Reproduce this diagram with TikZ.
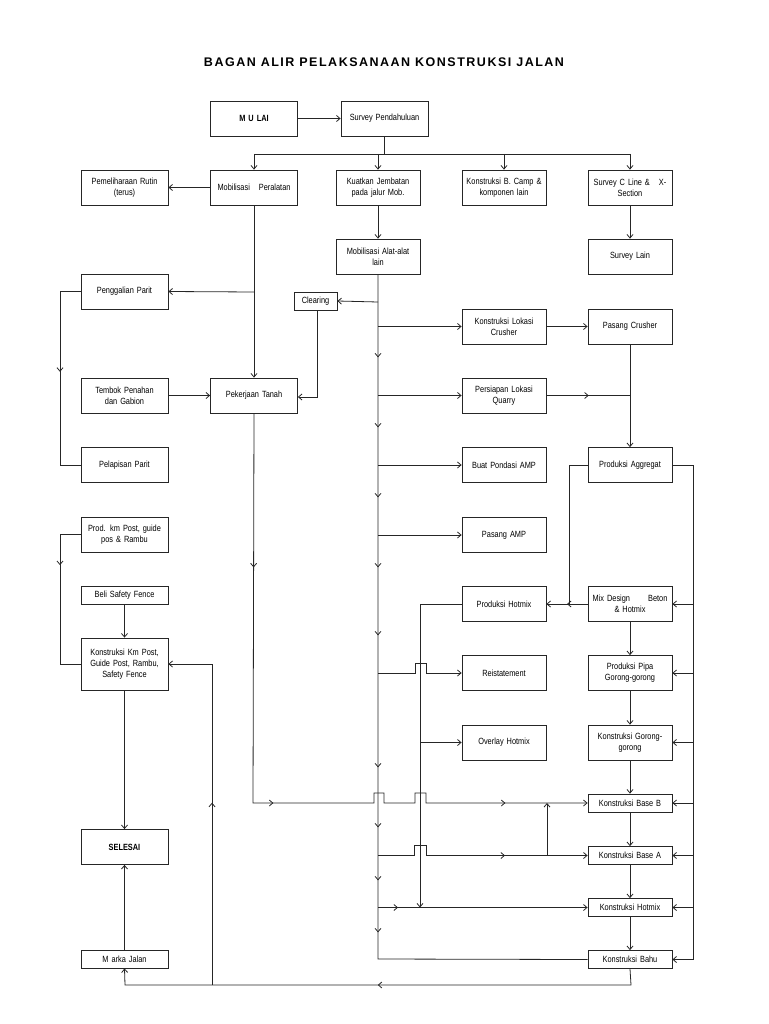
\documentclass[tikz,border=0pt]{standalone}
\usepackage{fontspec}
\setmainfont{Liberation Sans}[FakeStretch=0.82]
\newfontfamily\titlefont{Liberation Sans}[LetterSpace=12]
\usetikzlibrary{arrows.meta,decorations.markings}
\begin{document}
\begin{tikzpicture}[x=1pt,y=-1pt,
  >={Straight Barb[length=3.5pt,width=6pt]},
  line/.style={draw=black!85,line width=0.8pt},
  box/.style={draw=black!85,line width=0.8pt,rectangle,minimum width=84pt,minimum height=35pt,
    text width=82pt,align=center,inner sep=1pt,font=\fontsize{9}{11}\selectfont,
    execute at begin node={\hyphenpenalty=10000\relax}},
  wbox/.style={box,minimum width=87pt,text width=85pt},
  sbox/.style={box,minimum height=18pt},
  swbox/.style={wbox,minimum height=18pt},
  marks/.style={postaction={decorate},decoration={markings,#1}},
]
\useasboundingbox (0,0) rectangle (768,1024);
\node[font=\titlefont\bfseries\fontsize{12.5}{14}\selectfont] (title) at (384,62) {BAGAN ALIR PELAKSANAAN KONSTRUKSI JALAN};
% nodes
\node[wbox,font=\bfseries\fontsize{9}{11}\selectfont] (mulai) at (254,118.5) {M U LAI};
\node[wbox] (survey) at (384.5,118.5) {Survey Pendahuluan};
\node[wbox] (mobper) at (254,187.5) {Mobilisasi\quad Peralatan};
\node[box] (kuat) at (378,187.5) {Kuatkan Jembatan\\pada jalur Mob.};
\node[box] (camp) at (504,187.5) {Konstruksi B. Camp \&\\komponen lain};
\node[box] (scl) at (630,187.5) {Survey C Line \&\quad X-\\Section};
\node[box] (slain) at (630,256.5) {Survey Lain};
\node[box] (mobalat) at (378,256.5) {Mobilisasi Alat-alat\\lain};
\node[draw=black!85,line width=0.8pt,minimum width=43pt,minimum height=18pt,inner sep=1pt,font=\fontsize{9}{11}\selectfont] (clear) at (315.5,301) {Clearing};
\node[box] (klc) at (504,326.5) {Konstruksi Lokasi\\Crusher};
\node[box] (pcr) at (630,326.5) {Pasang Crusher};
\node[box] (plq) at (504,395.5) {Persiapan Lokasi\\Quarry};
\node[box] (agg) at (630,465) {Produksi Aggregat};
\node[box] (bpa) at (504,465) {Buat Pondasi AMP};
\node[box] (pamp) at (504,535) {Pasang AMP};
\node[wbox] (pem) at (124.5,187.5) {Pemeliharaan Rutin\\(terus)};
\node[wbox] (pgp) at (124.5,291.5) {Penggalian Parit};
\node[wbox] (tbk) at (124.5,395.5) {Tembok Penahan\\dan Gabion};
\node[wbox] (pkt) at (254,395.5) {Pekerjaan Tanah};
\node[wbox] (plp) at (124.5,465) {Pelapisan Parit};
\node[wbox] (pkm) at (124.5,534.5) {Prod. km Post, guide\\pos \& Rambu};
\node[swbox] (beli) at (124.5,595) {Beli Safety Fence};
\node[wbox,minimum height=52pt] (kkm) at (124.5,664) {Konstruksi Km Post,\\Guide Post, Rambu,\\Safety Fence};
\node[wbox,font=\bfseries\fontsize{9}{11}\selectfont] (sel) at (124.5,847) {SELESAI};
\node[swbox] (marka) at (124.5,959) {M arka Jalan};
\node[box] (phm) at (504,604) {Produksi Hotmix};
\node[box] (mix) at (630,604) {Mix Design\qquad Beton\\\& Hotmix};
\node[box] (reis) at (504,673) {Reistatement};
\node[box] (pipa) at (630,673) {Produksi Pipa\\Gorong-gorong};
\node[box] (ovl) at (504,742.5) {Overlay Hotmix};
\node[box] (kgg) at (630,742.5) {Konstruksi Gorong-\\gorong};
\node[sbox] (bb) at (630,803) {Konstruksi Base B};
\node[sbox] (ba) at (630,855.5) {Konstruksi Base A};
\node[sbox] (khm) at (630,907.5) {Konstruksi Hotmix};
\node[sbox] (bahu) at (630,959.5) {Konstruksi Bahu};
% coordinates
\coordinate (trE) at (378,959);
% connectors top
\draw[line,->] (mulai) -- (survey);
\draw[line] (survey.south) -- (384.5,154);
\draw[line] (254,154) -- (630,154);
\draw[line,->] (254,154) -- (mobper.north);
\draw[line,->] (378,154) -- (kuat.north);
\draw[line,->] (504,154) -- (camp.north);
\draw[line,->] (630,154) -- (scl.north);
\draw[line,->] (scl) -- (slain);
\draw[line,->] (kuat) -- (mobalat);
\draw[line,->] (mobper) -- (pem);
\draw[line,->] (mobper) -- (pkt);
\draw[line,->] (254,292) -- (pgp.east);
\draw[line,marks={mark=at position 0.47 with {\arrow{>}}}] (pgp.west) -- (60,291.5) -- (60,465) -- (plp.west);
\draw[line,->] (tbk) -- (pkt);
\draw[line,->] (clear.south -| 317,310) -- (317,397) -- (pkt.east |- 0,397);
% trunk
\draw[line,marks={mark=at position 83pt with {\arrow{>}},mark=at position 153pt with {\arrow{>}},
  mark=at position 223pt with {\arrow{>}},mark=at position 293pt with {\arrow{>}},
  mark=at position 361pt with {\arrow{>}},mark=at position 493pt with {\arrow{>}},
  mark=at position 553pt with {\arrow{>}},mark=at position 606pt with {\arrow{>}},
  mark=at position 658pt with {\arrow{>}}}]
  (mobalat.south) -- (trE) -- (bahu.west);
\draw[line,->] (378,302) -- (clear.east);
\draw[line,->] (378,326.5) -- (klc.west);
\draw[line,->] (klc) -- (pcr);
\draw[line,->] (378,395.5) -- (plq.west);
\draw[line,->] (378,465) -- (bpa.west);
\draw[line,->] (378,535) -- (pamp.west);
\draw[line,marks={mark=at position 0.5 with {\arrow{>}}}] (plq.east) -- (631,395.5);
\draw[line,->] (pcr.south) -- (agg.north);
% aggregat
\draw[line] (agg.west) -- (569,465) -- (569,604);
\draw[line,->,marks={mark=at position 0.5 with {\arrow{>}}}] (mix.west) -- (phm.east);
\draw[line] (agg.east) -- (693,465) -- (693,959.5);
\foreach \n/\yy in {mix/604,pipa/673,kgg/742.5,bb/803,ba/855.5,khm/907.5,bahu/959.5}
  \draw[line,->] (693,\yy) -- (\n.east);
\draw[line,->] (mix) -- (pipa);
\draw[line,->] (pipa) -- (kgg);
\draw[line,->] (kgg) -- (bb);
\draw[line,->] (bb) -- (ba);
\draw[line,->] (ba) -- (khm);
\draw[line,->] (khm) -- (bahu);
% hotmix
\draw[line,->] (phm.west) -- (420,604) -- (420,907.5);
\draw[line,->] (420,742.5) -- (ovl.west);
\draw[line,->] (378,673) -- (415,673) -- (415,663) -- (426,663) -- (426,673) -- (reis.west);
\draw[line,->,marks={mark=at position 154pt with {\arrow{>}},mark=at position 410pt with {\arrow{>}},mark=at position 682pt with {\arrow{>}}}]
  (pkt.south) -- (253,803) -- (374,803) -- (374,793) -- (384,793) -- (384,803) -- (415,803) -- (415,793) -- (426,793) -- (426,803) -- (bb.west);
\draw[line,->,marks={mark=at position 147pt with {\arrow{>}}}] (378,855.5) -- (414,855.5) -- (414,845.5) -- (426,845.5) -- (426,855.5) -- (ba.west);
\draw[line,->] (547,855.5) -- (547,803);
\draw[line,->,marks={mark=at position 20pt with {\arrow{>}}}] (378,907.5) -- (khm.west);
% bottom
\draw[line,->,marks={mark=at position 0.5 with {\arrow{>}}}] (bahu.south) -- (631,985) -- (125,985) -- (marka.south);
\draw[line,->,marks={mark=at position 0.5 with {\arrow{>}}}] (212,985) -- (212,664) -- (kkm.east);
\draw[line,->] (marka) -- (sel);
\draw[line,->] (kkm) -- (sel);
\draw[line,->] (beli) -- (kkm);
\draw[line,marks={mark=at position 0.3 with {\arrow{>}}}] (pkm.west) -- (60,534.5) -- (60,664) -- (kkm.west);
\end{tikzpicture}
\end{document}
